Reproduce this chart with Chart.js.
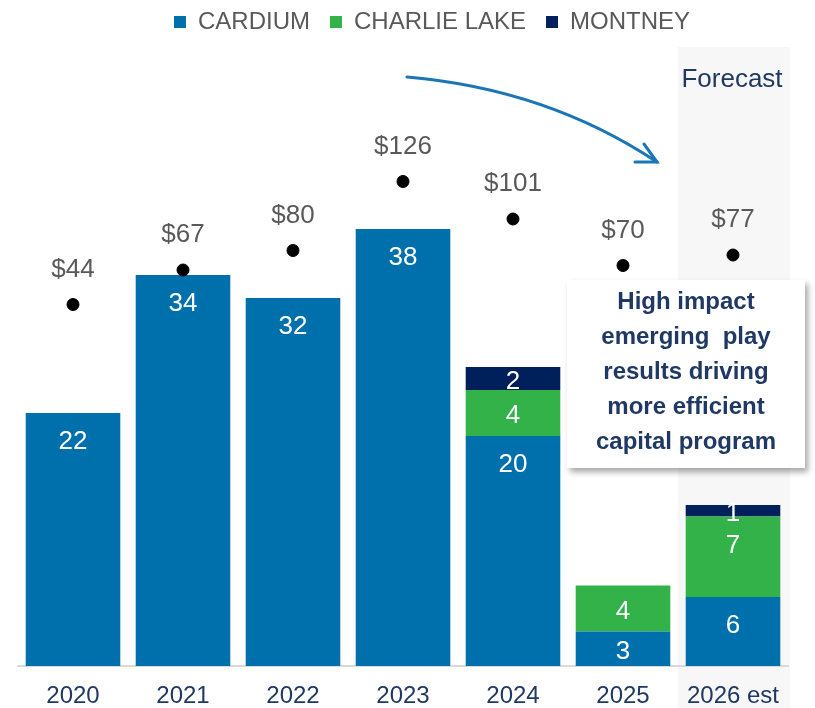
<!DOCTYPE html>
<html>
<head>
<meta charset="utf-8">
<script src="https://cdn.jsdelivr.net/npm/chart.js@4"></script>
<style>
  html, body { margin: 0; padding: 0; background: #fff; }
  #wrap { width: 815px; height: 708px; }
</style>
</head>
<body>
<div id="wrap"><canvas id="capChart" width="815" height="708"></canvas></div>
<script>
const years = ["2020", "2021", "2022", "2023", "2024", "2025", "2026 est"];
const cardium = [22, 34, 32, 38, 20, 3, 6];
const charlieLake = [null, null, null, null, 4, 4, 7];
const montney = [null, null, null, null, 2, null, 1];
const capital = [44, 67, 80, 126, 101, 70, 77];
const noteLines = ["High impact", "emerging  play", "results driving", "more efficient", "capital program"];

const FONT = "'Liberation Sans', Arial, sans-serif";

// fixed legend height and a small nudge, like the slide
const legendTweak = {
    id: "legendTweak",
    beforeInit(chart) {
        const fit = chart.legend.fit;
        chart.legend.fit = function () {
            fit.call(this);
            this.height = 45;
        };
    },
    afterLayout(chart) {
        chart.legend.left += 29;
        chart.legend.right += 29;
        chart.legend.top -= 10;
    }
};

// grey band behind the forecast year (drawn before the axes so the tick stays visible)
const forecastBand = {
    id: "forecastBand",
    beforeDraw(chart) {
        const ctx = chart.ctx;
        const x = chart.scales.x;
        const cx = x.getPixelForValue(6);
        const half = (x.getPixelForValue(6) - x.getPixelForValue(5)) / 2;
        ctx.save();
        ctx.fillStyle = "#F7F7F7";
        ctx.fillRect(cx - half, chart.chartArea.top + 2, half * 2 + 2, chart.height - chart.chartArea.top);
        ctx.fillStyle = "#1F3864";
        ctx.font = "26px " + FONT;
        ctx.textAlign = "center";
        ctx.textBaseline = "middle";
        ctx.fillText("Forecast", cx - 1, chart.chartArea.top + 35);
        ctx.restore();
    }
};

// numbers near the top of each bar piece and $ labels over the dots
const valueLabels = {
    id: "valueLabels",
    afterDatasetsDraw(chart) {
        const ctx = chart.ctx;
        ctx.save();
        ctx.textAlign = "center";
        ctx.textBaseline = "middle";
        chart.data.datasets.forEach((ds, i) => {
            const meta = chart.getDatasetMeta(i);
            meta.data.forEach((el, j) => {
                const v = ds.data[j];
                if (v == null) return;
                if (ds.type === "line") {
                    ctx.fillStyle = "#595959";
                    ctx.font = "26px " + FONT;
                    ctx.fillText("$" + v, el.x, el.y - 35);
                } else {
                    const h = el.base - el.y;
                    ctx.fillStyle = "#FFFFFF";
                    ctx.font = "26px " + FONT;
                    ctx.fillText(v, el.x, el.y + Math.min(29, h / 2 + 3));
                }
            });
        });
        ctx.restore();
    }
};

// curved arrow and callout box
const callout = {
    id: "callout",
    afterDraw(chart) {
        const ctx = chart.ctx;
        const x = chart.scales.x;
        const top = chart.chartArea.top;
        const sx = x.getPixelForValue(3) + 4, sy = top + 32;
        const ex = x.getPixelForValue(5) + 34, ey = top + 117;
        ctx.save();
        ctx.strokeStyle = "#1A76B4";
        ctx.lineWidth = 3;
        ctx.lineCap = "round";
        ctx.beginPath();
        ctx.moveTo(sx, sy);
        ctx.quadraticCurveTo(sx + 140, sy + 12, ex, ey);
        ctx.stroke();
        ctx.beginPath();
        ctx.moveTo(ex - 22, ey);
        ctx.lineTo(ex, ey);
        ctx.lineTo(ex - 13, ey - 18);
        ctx.stroke();

        const bx = x.getPixelForValue(5) - 56, by = top + 235, bw = 238, bh = 188;
        ctx.shadowColor = "rgba(0,0,0,0.35)";
        ctx.shadowBlur = 6;
        ctx.shadowOffsetX = 3;
        ctx.shadowOffsetY = 4;
        ctx.fillStyle = "#FFFFFF";
        ctx.fillRect(bx, by, bw, bh);
        ctx.shadowColor = "transparent";
        ctx.fillStyle = "#1F3864";
        ctx.font = "bold 24px " + FONT;
        ctx.textAlign = "center";
        ctx.textBaseline = "middle";
        noteLines.forEach((t, k) => ctx.fillText(t, bx + bw / 2, by + 22 + k * 35));
        ctx.restore();
    }
};

new Chart(document.getElementById("capChart").getContext("2d"), {
    type: "bar",
    data: {
        labels: years,
        datasets: [
            { label: "CARDIUM", data: cardium, backgroundColor: "#0070AD", stack: "s", order: 2 },
            { label: "CHARLIE LAKE", data: charlieLake, backgroundColor: "#33B24A", stack: "s", order: 2 },
            { label: "MONTNEY", data: montney, backgroundColor: "#00205B", stack: "s", order: 2 },
            {
                type: "line", label: "Capital", data: capital, yAxisID: "y2", showLine: false,
                pointRadius: 6, pointHoverRadius: 6, pointBackgroundColor: "#000", pointBorderColor: "#000", order: 1
            }
        ]
    },
    options: {
        responsive: false,
        animation: false,
        layout: { padding: { left: 18, right: 27, top: 0, bottom: 0 } },
        datasets: { bar: { barPercentage: 0.86, categoryPercentage: 1 } },
        scales: {
            x: {
                stacked: true,
                grid: { display: false },
                border: { display: true, color: "#D9D9D9", width: 2 },
                ticks: {
                    color: "#203864", font: { family: FONT, size: 24 }, padding: 8,
                    autoSkip: false, maxRotation: 0, minRotation: 0
                },
                afterFit(scale) { scale.height = 42; }
            },
            y: { stacked: true, display: false, min: 0, max: 54 },
            y2: { display: false, min: -197, max: 217 }
        },
        plugins: {
            tooltip: { enabled: false },
            legend: {
                position: "top",
                labels: {
                    color: "#595959",
                    font: { family: FONT, size: 24 },
                    boxWidth: 12, boxHeight: 12,
                    padding: 20,
                    filter: item => item.text !== "Capital"
                }
            }
        }
    },
    plugins: [legendTweak, forecastBand, valueLabels, callout]
});
</script>
</body>
</html>
